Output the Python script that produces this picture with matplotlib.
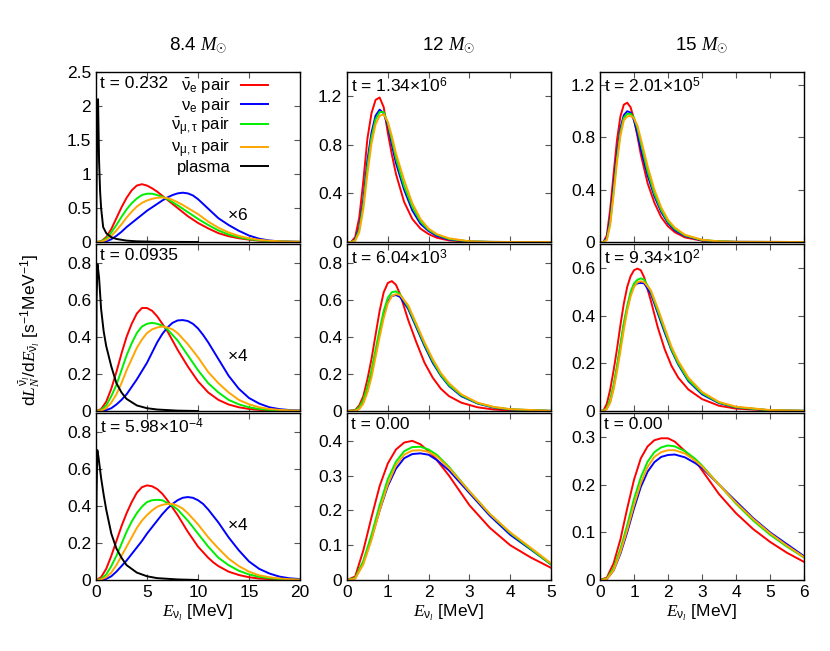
import numpy as np
import matplotlib
matplotlib.use("Agg")
import matplotlib.pyplot as plt

plt.rcParams['font.family'] = ['Liberation Sans', 'DejaVu Sans']
plt.rcParams['mathtext.fontset'] = 'custom'
plt.rcParams['mathtext.rm'] = 'Liberation Sans'
plt.rcParams['mathtext.it'] = 'Liberation Serif:italic'
plt.rcParams['mathtext.bf'] = 'Liberation Sans:bold'

# ---------------- data: 8.4 Msun ----------------
E84 = [0, 0.5, 1, 1.5, 2, 2.5, 3, 3.5, 4, 4.5, 5, 5.5, 6, 6.5, 7, 7.5, 8, 8.5, 9, 9.5, 10,
       10.5, 11, 11.5, 12, 13, 14, 15, 16, 17, 18, 19, 20]

a_red = [0, 0.01, 0.07, 0.19, 0.35, 0.51, 0.65, 0.76, 0.83, 0.85, 0.83, 0.79, 0.74, 0.68, 0.62, 0.56, 0.50,
         0.44, 0.38, 0.33, 0.28, 0.24, 0.20, 0.165, 0.13, 0.085, 0.055, 0.035, 0.02, 0.012, 0.007, 0.004, 0.002]
a_blue = [0, 0.002, 0.01, 0.04, 0.09, 0.15, 0.22, 0.28, 0.34, 0.40, 0.46, 0.51, 0.56, 0.61, 0.655, 0.69, 0.715,
          0.725, 0.715, 0.685, 0.63, 0.56, 0.49, 0.42, 0.35, 0.25, 0.165, 0.095, 0.048, 0.022, 0.01, 0.005, 0.002]
a_green = [0, 0.008, 0.05, 0.14, 0.25, 0.37, 0.48, 0.57, 0.64, 0.69, 0.71, 0.71, 0.69, 0.665, 0.63, 0.585, 0.54,
           0.49, 0.44, 0.39, 0.34, 0.295, 0.25, 0.21, 0.17, 0.11, 0.07, 0.042, 0.025, 0.014, 0.008, 0.004, 0.002]
a_orange = [0, 0.004, 0.03, 0.09, 0.17, 0.26, 0.36, 0.445, 0.52, 0.575, 0.61, 0.635, 0.65, 0.655, 0.645, 0.62, 0.585,
            0.545, 0.50, 0.455, 0.41, 0.355, 0.30, 0.255, 0.21, 0.14, 0.09, 0.055, 0.032, 0.018, 0.01, 0.005, 0.003]
a_Ebk = [0, 0.1, 0.2, 0.3, 0.4, 0.5, 0.7, 1.0, 1.5, 2, 3, 4, 6, 10]
a_black = [0, 1.5, 2.1, 1.2, 0.75, 0.5, 0.22, 0.13, 0.07, 0.045, 0.02, 0.01, 0.003, 0]

b_red = [0, 0.01, 0.05, 0.12, 0.21, 0.31, 0.40, 0.47, 0.525, 0.555, 0.555, 0.54, 0.51, 0.47, 0.43, 0.38, 0.33,
         0.285, 0.24, 0.20, 0.16, 0.13, 0.10, 0.08, 0.06, 0.035, 0.02, 0.011, 0.006, 0.003, 0.002, 0.001, 0]
b_blue = [0, 0.001, 0.005, 0.015, 0.035, 0.06, 0.09, 0.13, 0.17, 0.215, 0.26, 0.315, 0.37, 0.415, 0.45, 0.475, 0.488,
          0.49, 0.485, 0.47, 0.445, 0.41, 0.37, 0.325, 0.28, 0.19, 0.12, 0.07, 0.04, 0.02, 0.01, 0.005, 0.003]
b_green = [0, 0.005, 0.03, 0.08, 0.14, 0.22, 0.30, 0.365, 0.42, 0.455, 0.47, 0.475, 0.47, 0.46, 0.44, 0.41, 0.38,
           0.34, 0.30, 0.26, 0.22, 0.185, 0.15, 0.125, 0.10, 0.06, 0.036, 0.02, 0.011, 0.006, 0.003, 0.002, 0.001]
b_orange = [0, 0.002, 0.015, 0.045, 0.09, 0.15, 0.22, 0.28, 0.34, 0.385, 0.42, 0.44, 0.45, 0.455, 0.45, 0.44, 0.42,
            0.39, 0.36, 0.325, 0.29, 0.25, 0.21, 0.18, 0.15, 0.10, 0.06, 0.036, 0.02, 0.011, 0.006, 0.003, 0.002]
b_Ebk = [0, 0.05, 0.15, 0.3, 0.5, 0.75, 1, 1.5, 2, 2.5, 3, 4, 5, 6, 8, 10]
b_black = [0, 0.6, 0.79, 0.72, 0.55, 0.43, 0.35, 0.24, 0.15, 0.10, 0.065, 0.03, 0.015, 0.008, 0.002, 0]

c_red = [0, 0.015, 0.06, 0.13, 0.21, 0.29, 0.36, 0.42, 0.47, 0.50, 0.51, 0.505, 0.49, 0.465, 0.43, 0.39, 0.35,
         0.305, 0.26, 0.22, 0.18, 0.15, 0.12, 0.095, 0.075, 0.045, 0.027, 0.015, 0.008, 0.005, 0.003, 0.001, 0]
c_blue = [0, 0.001, 0.006, 0.02, 0.045, 0.075, 0.105, 0.14, 0.175, 0.21, 0.25, 0.285, 0.32, 0.355, 0.385, 0.41, 0.43,
          0.443, 0.447, 0.443, 0.43, 0.41, 0.38, 0.345, 0.31, 0.23, 0.16, 0.10, 0.06, 0.035, 0.018, 0.009, 0.005]
c_green = [0, 0.006, 0.03, 0.075, 0.13, 0.195, 0.26, 0.315, 0.36, 0.395, 0.42, 0.43, 0.432, 0.43, 0.415, 0.40, 0.38,
           0.35, 0.32, 0.285, 0.25, 0.215, 0.18, 0.15, 0.12, 0.08, 0.05, 0.03, 0.017, 0.01, 0.005, 0.002, 0.001]
c_orange = [0, 0.003, 0.015, 0.04, 0.08, 0.13, 0.18, 0.23, 0.28, 0.32, 0.35, 0.375, 0.395, 0.405, 0.41, 0.41, 0.40,
            0.385, 0.36, 0.33, 0.30, 0.265, 0.23, 0.20, 0.17, 0.115, 0.075, 0.045, 0.025, 0.015, 0.008, 0.004, 0.002]
c_Ebk = [0, 0.05, 0.13, 0.25, 0.5, 0.75, 1, 1.5, 2, 2.5, 3, 4, 5, 6, 8, 10]
c_black = [0, 0.45, 0.70, 0.66, 0.55, 0.46, 0.38, 0.25, 0.17, 0.12, 0.08, 0.04, 0.02, 0.01, 0.003, 0]

# ---------------- data: 12 Msun ----------------
d_E = [0, 0.1, 0.2, 0.3, 0.4, 0.5, 0.6, 0.7, 0.8, 0.9, 1.0, 1.1, 1.2, 1.4, 1.6, 1.8, 2.0, 2.2, 2.5, 3.0, 3.5, 4.0, 5.0]
d_red = [0, 0, 0.04, 0.20, 0.50, 0.85, 1.06, 1.17, 1.19, 1.11, 0.90, 0.72, 0.56, 0.33, 0.19, 0.11, 0.065, 0.035, 0.013, 0.002, 0, 0, 0]
d_blue = [0, 0, 0.02, 0.12, 0.35, 0.67, 0.90, 1.04, 1.09, 1.06, 0.96, 0.80, 0.65, 0.43, 0.26, 0.15, 0.09, 0.05, 0.02, 0.004, 0.001, 0, 0]
d_green = [0, 0, 0.015, 0.10, 0.31, 0.62, 0.86, 1.01, 1.07, 1.07, 0.98, 0.84, 0.69, 0.46, 0.29, 0.17, 0.10, 0.06, 0.025, 0.005, 0.001, 0, 0]
d_orange = [0, 0, 0.01, 0.08, 0.27, 0.56, 0.81, 0.97, 1.04, 1.05, 0.99, 0.87, 0.73, 0.51, 0.32, 0.19, 0.11, 0.065, 0.03, 0.006, 0.001, 0, 0]

e_E = [0, 0.2, 0.3, 0.4, 0.5, 0.6, 0.7, 0.8, 0.9, 1.0, 1.1, 1.2, 1.3, 1.5, 1.7, 1.9, 2.1, 2.3, 2.5, 2.8, 3.2, 3.6, 4.0, 5.0]
e_red = [0, 0.005, 0.03, 0.08, 0.17, 0.28, 0.41, 0.54, 0.64, 0.69, 0.70, 0.68, 0.63, 0.49, 0.37, 0.26, 0.18, 0.12, 0.08, 0.045, 0.02, 0.008, 0.003, 0]
e_blue = [0, 0.002, 0.015, 0.05, 0.11, 0.20, 0.31, 0.42, 0.52, 0.59, 0.62, 0.625, 0.615, 0.55, 0.45, 0.35, 0.26, 0.19, 0.135, 0.08, 0.04, 0.018, 0.008, 0.001]
e_green = [0, 0.003, 0.02, 0.06, 0.13, 0.22, 0.33, 0.44, 0.54, 0.61, 0.64, 0.645, 0.63, 0.56, 0.46, 0.36, 0.27, 0.195, 0.14, 0.085, 0.042, 0.02, 0.009, 0.001]
e_orange = [0, 0.002, 0.01, 0.04, 0.10, 0.18, 0.29, 0.40, 0.50, 0.58, 0.62, 0.63, 0.625, 0.57, 0.47, 0.37, 0.28, 0.205, 0.15, 0.09, 0.045, 0.022, 0.01, 0.001]

f_E = [0, 0.2, 0.4, 0.6, 0.8, 1.0, 1.2, 1.4, 1.6, 1.8, 2.0, 2.2, 2.5, 3.0, 3.5, 4.0, 4.5, 5.0]
f_red = [0, 0.01, 0.085, 0.18, 0.27, 0.335, 0.375, 0.395, 0.40, 0.39, 0.37, 0.345, 0.30, 0.215, 0.15, 0.10, 0.065, 0.035]
f_blue = [0, 0.005, 0.05, 0.12, 0.20, 0.27, 0.32, 0.35, 0.362, 0.364, 0.36, 0.345, 0.315, 0.25, 0.185, 0.13, 0.088, 0.045]
f_green = [0, 0.006, 0.055, 0.13, 0.215, 0.29, 0.34, 0.37, 0.382, 0.383, 0.375, 0.36, 0.325, 0.255, 0.19, 0.135, 0.09, 0.045]
f_orange = [0, 0.004, 0.045, 0.115, 0.20, 0.275, 0.33, 0.36, 0.372, 0.373, 0.368, 0.355, 0.322, 0.255, 0.19, 0.137, 0.093, 0.048]

# ---------------- data: 15 Msun ----------------
g_E = [0, 0.1, 0.2, 0.3, 0.4, 0.5, 0.6, 0.7, 0.8, 0.9, 1.0, 1.1, 1.2, 1.4, 1.6, 1.8, 2.0, 2.2, 2.5, 3.0, 3.5, 4.0, 6.0]
g_red = [0, 0, 0.05, 0.25, 0.52, 0.78, 0.96, 1.05, 1.065, 1.03, 0.94, 0.81, 0.67, 0.45, 0.30, 0.19, 0.12, 0.075, 0.035, 0.01, 0.003, 0.001, 0]
g_blue = [0, 0, 0.03, 0.18, 0.43, 0.68, 0.87, 0.97, 1.0, 0.99, 0.93, 0.83, 0.71, 0.51, 0.35, 0.23, 0.145, 0.09, 0.045, 0.013, 0.004, 0.001, 0]
g_green = [0, 0, 0.02, 0.15, 0.39, 0.64, 0.84, 0.95, 0.98, 0.98, 0.95, 0.87, 0.76, 0.54, 0.37, 0.245, 0.155, 0.10, 0.05, 0.015, 0.005, 0.001, 0]
g_orange = [0, 0, 0.015, 0.13, 0.36, 0.61, 0.81, 0.93, 0.96, 0.965, 0.945, 0.89, 0.79, 0.58, 0.40, 0.265, 0.17, 0.11, 0.055, 0.017, 0.005, 0.001, 0]

h_E = [0, 0.1, 0.2, 0.3, 0.4, 0.5, 0.6, 0.7, 0.8, 0.9, 1.0, 1.1, 1.2, 1.3, 1.5, 1.7, 1.9, 2.1, 2.3, 2.6, 3.0, 3.5, 4.0, 5.0, 6.0]
h_red = [0, 0.002, 0.03, 0.09, 0.17, 0.26, 0.36, 0.45, 0.52, 0.565, 0.59, 0.597, 0.59, 0.56, 0.46, 0.35, 0.26, 0.19, 0.14, 0.09, 0.05, 0.022, 0.01, 0.002, 0]
h_blue = [0, 0.001, 0.01, 0.04, 0.10, 0.18, 0.27, 0.36, 0.43, 0.49, 0.525, 0.535, 0.537, 0.535, 0.49, 0.41, 0.33, 0.255, 0.195, 0.125, 0.07, 0.033, 0.015, 0.003, 0.001]
h_green = [0, 0.001, 0.012, 0.05, 0.11, 0.19, 0.28, 0.37, 0.44, 0.50, 0.535, 0.55, 0.556, 0.55, 0.50, 0.42, 0.34, 0.26, 0.20, 0.13, 0.075, 0.035, 0.016, 0.003, 0.001]
h_orange = [0, 0.001, 0.008, 0.035, 0.09, 0.165, 0.25, 0.34, 0.42, 0.48, 0.52, 0.54, 0.544, 0.54, 0.505, 0.43, 0.35, 0.27, 0.21, 0.14, 0.08, 0.038, 0.018, 0.004, 0.001]

i_E = [0, 0.2, 0.4, 0.6, 0.8, 1.0, 1.2, 1.4, 1.6, 1.8, 2.0, 2.2, 2.5, 2.8, 3.0, 3.5, 4.0, 4.5, 5.0, 5.5, 6.0]
i_red = [0, 0.005, 0.035, 0.085, 0.15, 0.21, 0.255, 0.28, 0.293, 0.297, 0.297, 0.29, 0.27, 0.25, 0.23, 0.18, 0.14, 0.107, 0.08, 0.057, 0.038]
i_blue = [0, 0.002, 0.02, 0.055, 0.10, 0.15, 0.195, 0.227, 0.247, 0.258, 0.262, 0.263, 0.257, 0.245, 0.235, 0.20, 0.165, 0.13, 0.10, 0.075, 0.05]
i_green = [0, 0.003, 0.025, 0.065, 0.115, 0.17, 0.215, 0.248, 0.268, 0.278, 0.282, 0.28, 0.27, 0.254, 0.24, 0.20, 0.16, 0.125, 0.095, 0.07, 0.047]
i_orange = [0, 0.002, 0.02, 0.058, 0.105, 0.157, 0.203, 0.237, 0.258, 0.268, 0.272, 0.272, 0.265, 0.25, 0.238, 0.20, 0.162, 0.128, 0.098, 0.072, 0.048]

col_titles = ['8.4 $M_{\\odot}$', '12 $M_{\\odot}$', '15 $M_{\\odot}$']
times = [['t = 0.232', 't = 1.34$\\times$10$^{6}$', 't = 2.01$\\times$10$^{5}$'],
         ['t = 0.0935', 't = 6.04$\\times$10$^{3}$', 't = 9.34$\\times$10$^{2}$'],
         ['t = 5.98$\\times$10$^{-4}$', 't = 0.00', 't = 0.00']]
scale_labels = ['$\\times$6', '$\\times$4', '$\\times$4']
legend_labels = ['$\\bar{\\mathrm{\\nu}}_{\\mathrm{e}}$ pair', '$\\mathrm{\\nu}_{\\mathrm{e}}$ pair',
                 '$\\bar{\\mathrm{\\nu}}_{\\mathrm{\\mu,\\tau}}$ pair', '$\\mathrm{\\nu}_{\\mathrm{\\mu,\\tau}}$ pair',
                 'plasma']

RED, BLUE, GREEN, ORANGE, BLACK = '#ff0000', '#0000ff', '#00ee00', '#ffa500', '#000000'

W, H = 830, 651
fig = plt.figure(figsize=(W / 100, H / 100), dpi=100)

col_x = [96, 347, 600]
col_w = 204
row_y = [(72, 242), (244, 411), (413, 580)]

xlims = [20, 5, 6]
xticks = [[0, 5, 10, 15, 20], [0, 1, 2, 3, 4, 5], [0, 1, 2, 3, 4, 5, 6]]
ylims = [[2.5, 1.4, 1.3], [0.9, 0.9, 0.7], [0.9, 0.48, 0.35]]
ytick_step = [[0.5, 0.4, 0.4], [0.2, 0.2, 0.2], [0.2, 0.1, 0.1]]

panels = [
    [(E84, a_red, a_blue, a_green, a_orange, a_Ebk, a_black), (d_E, d_red, d_blue, d_green, d_orange, None, None), (g_E, g_red, g_blue, g_green, g_orange, None, None)],
    [(E84, b_red, b_blue, b_green, b_orange, b_Ebk, b_black), (e_E, e_red, e_blue, e_green, e_orange, None, None), (h_E, h_red, h_blue, h_green, h_orange, None, None)],
    [(E84, c_red, c_blue, c_green, c_orange, c_Ebk, c_black), (f_E, f_red, f_blue, f_green, f_orange, None, None), (i_E, i_red, i_blue, i_green, i_orange, None, None)],
]
scale_pos = [(12.8, 0.33), (12.8, 0.27), (12.8, 0.27)]

FS = 12.5
lw = 1.4
for r in range(3):
    for c in range(3):
        y0, y1 = row_y[r]
        ax = fig.add_axes([col_x[c] / W, 1 - y1 / H, col_w / W, (y1 - y0) / H])
        E, rd, bl, gr, orv, Ebk, bk = panels[r][c]
        l1, = ax.plot(E, rd, color=RED, lw=lw)
        l2, = ax.plot(E, bl, color=BLUE, lw=lw)
        l3, = ax.plot(E, gr, color=GREEN, lw=lw)
        l4, = ax.plot(E, orv, color=ORANGE, lw=lw)
        handles = [l1, l2, l3, l4]
        if Ebk is not None:
            l5, = ax.plot(Ebk, bk, color=BLACK, lw=lw)
            handles.append(l5)
            ax.text(scale_pos[r][0], scale_pos[r][1], scale_labels[r], fontsize=FS)
        ax.set_xlim(0, xlims[c])
        ax.set_ylim(0, ylims[r][c])
        ax.set_xticks(xticks[c])
        st = ytick_step[r][c]
        yt = np.arange(0, ylims[r][c] + 1e-9, st)
        ax.set_yticks(yt)
        ax.set_yticklabels(['%g' % v for v in yt])
        ax.tick_params(direction='in', top=True, right=True, length=4, width=0.8,
                       labelsize=FS, color='#555555')
        if r < 2:
            ax.set_xticklabels([])
        for s in ax.spines.values():
            s.set_linewidth(1.0)
        ax.text(0.02, 0.975, times[r][c], transform=ax.transAxes, fontsize=FS,
                va='top', ha='left')
        if r == 0 and c == 0:
            ax.legend(handles, legend_labels, loc='upper right', frameon=False,
                      markerfirst=False, fontsize=12, handlelength=1.6,
                      labelspacing=0.0, handletextpad=0.65,
                      bbox_to_anchor=(0.9, 1.04), borderpad=0.2)
        if r == 2:
            ax.set_xlabel('$E_{\\mathrm{\\nu}_l}$ [MeV]', fontsize=FS, labelpad=2)

for c in range(3):
    fig.text((col_x[c] + col_w / 2) / W, 1 - 45 / H, col_titles[c], fontsize=13.5,
             ha='center', va='center')

fig.text(30 / W, 1 - 330 / H,
         'd$L_N^{\\bar{\\mathrm{\\nu}}_l}$/d$E_{\\bar{\\mathrm{\\nu}}_l}$ [s$^{\\mathrm{-1}}$MeV$^{\\mathrm{-1}}$]',
         rotation=90, fontsize=FS, ha='center', va='center')

fig.savefig('out.png', dpi=100)
